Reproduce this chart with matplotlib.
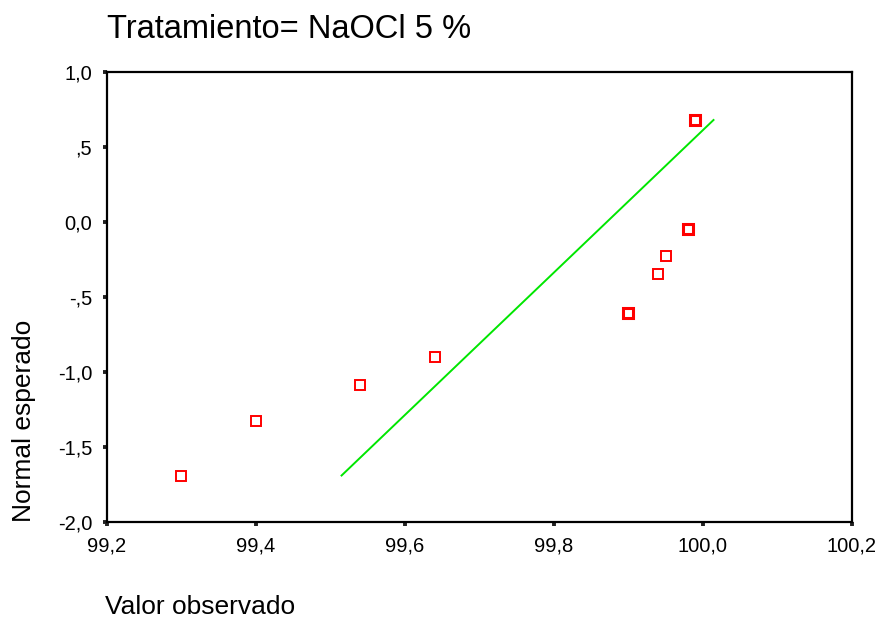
import numpy as np
import matplotlib
matplotlib.use("Agg")
import matplotlib.pyplot as plt

plt.rcParams['font.family'] = ['Liberation Sans', 'DejaVu Sans']

TITLE = 'Tratamiento= NaOCl 5 %'
X_LABEL = 'Valor observado'
Y_LABEL = 'Normal esperado'

observed = [99.30, 99.40, 99.54, 99.64, 99.90, 99.94, 99.95, 99.98, 99.99]
expected = [-1.69, -1.33, -1.09, -0.90, -0.61, -0.35, -0.23, -0.05, 0.68]
ties = [1, 1, 1, 1, 2, 1, 1, 2, 2]

# reference line: normal with this mean / sd
FIT_MEAN = 99.871
FIT_SD = 0.2107

x_ticks = [99.2, 99.4, 99.6, 99.8, 100.0, 100.2]
x_tick_labels = ['99,2', '99,4', '99,6', '99,8', '100,0', '100,2']
y_ticks = [1.0, 0.5, 0.0, -0.5, -1.0, -1.5, -2.0]
y_tick_labels = ['1,0', ',5', '0,0', '-,5', '-1,0', '-1,5', '-2,0']


def main():
    fig = plt.figure(figsize=(8.8, 6.19), dpi=100)
    ax = fig.add_axes([0.1216, 0.1567, 0.968 - 0.1216, 0.8837 - 0.1567])

    # reference line spans the range of expected values
    y_line = np.array([min(expected), max(expected)])
    x_line = FIT_MEAN + FIT_SD * y_line
    ax.plot(x_line, y_line, color='#00e600', lw=1.4, zorder=2)

    for x, y, n in zip(observed, expected, ties):
        ax.plot(x, y, marker='s', ms=6.6, mfc='white', mec='#ff0000',
                mew=1.4 if n == 1 else 2.2, ls='none', zorder=3)

    ax.set_xlim(99.2, 100.2)
    ax.set_ylim(-2.0, 1.0)
    ax.set_xticks(x_ticks)
    ax.set_xticklabels(x_tick_labels)
    ax.set_yticks(y_ticks)
    ax.set_yticklabels(y_tick_labels)
    ax.tick_params(direction='out', length=2.6, width=2.8, labelsize=14.5,
                   pad=8, color='#222222')

    for s in ax.spines.values():
        s.set_linewidth(1.6)

    fig.text(107 / 880, 1 - 38 / 619, TITLE, fontsize=23.5, ha='left', va='baseline')
    fig.text(105 / 880, 1 - 607 / 619, X_LABEL, fontsize=19, ha='left', va='center')
    fig.text(24 / 880, 1 - 421 / 619, Y_LABEL, fontsize=19, ha='center', va='center',
             rotation=90)

    fig.savefig('out.png', dpi=100)


if __name__ == "__main__":
    main()
